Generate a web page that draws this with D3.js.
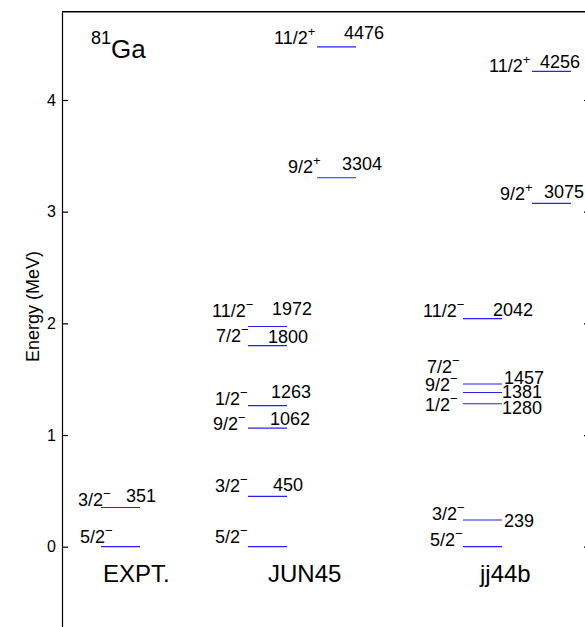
<!DOCTYPE html>
<html lang="en">
<head>
	<meta charset="UTF-8">
	<title>81Ga levels</title>
	<script src="https://cdn.jsdelivr.net/npm/d3@7"></script>
	<style>
		body { margin: 0; background: #fff; }
		text { font-family: Arial, "Liberation Sans", sans-serif; fill: #000; }
	</style>
</head>
<body>
	<svg id="svg"></svg>
	<script>
		// level data (energies in keV)
		var models = ["EXPT.", "JUN45", "jj44b"];

		var exptSpins = ["5/2", "3/2"],
			exptParity = ["−", "−"],
			exptEnergies = [0, 351];

		var junSpins = ["5/2", "3/2", "9/2", "1/2", "7/2", "11/2", "9/2", "11/2"],
			junParity = ["−", "−", "−", "−", "−", "−", "+", "+"],
			junEnergies = [0, 450, 1062, 1263, 1800, 1972, 3304, 4476];

		var jjSpins = ["5/2", "3/2", "1/2", "9/2", "7/2", "11/2", "9/2", "11/2"],
			jjParity = ["−", "−", "−", "−", "−", "−", "+", "+"],
			jjEnergies = [0, 239, 1280, 1381, 1457, 2042, 3075, 4256];

		var yTicks = [0, 1, 2, 3, 4];

		// label nudges: [spin dx, spin dy, energy dx, energy dy] relative to line start / line y
		var exptNudge = [[-21, -4, 0, 0], [-23, -2, 25, -6]];
		var junNudge = [[-33, -4, 0, 0], [-33, -4, 25, -5], [-35, 2, 22, -3], [-33, -1, 23, -8],
			[-32, -4, 20, -3], [-36, -9, 24, -11], [-29, -5, 25, -8], [-43, -3, 27, -8]];
		var jjNudge = [[-33, -1, 0, 0], [-31, 0, 41, 7], [-38, 7, 39, 10], [-38, -1, 39, 6],
			[-36, -11, 41, 0], [-40, -2, 30, -3], [-32, -3, 12, -5], [-43, 1, 8, -3]];

		var w = 585, h = 627,
			axisX = 62, rightX = 590,
			lineW = 39, posShift = 69,
			colStart = [101, 248, 463],
			nameDx = [2, 20, 17],
			svg = d3.select("#svg").attr("width", w).attr("height", h);

		var y = d3.scaleLinear()
			.domain([-0.8, 4.79])
			.range([546.7 + 0.8 * 111.675, 546.7 - 4.79 * 111.675]);

		var columns = [
			{ spins: exptSpins, parity: exptParity, energies: exptEnergies, nudge: exptNudge },
			{ spins: junSpins, parity: junParity, energies: junEnergies, nudge: junNudge },
			{ spins: jjSpins, parity: jjParity, energies: jjEnergies, nudge: jjNudge }
		];

		// frame
		svg.append("g")
			.attr("transform", "translate(" + axisX + ",0)")
			.call(d3.axisLeft(y).tickValues(yTicks).tickSize(-6).tickSizeOuter(0).tickPadding(6)
				.tickFormat(d3.format("d")))
			.call(function(g) {
				g.selectAll("text").style("font-size", "16px").attr("font-family", null);
				g.selectAll("line,path").attr("stroke", "#000").attr("stroke-width", 1.2);
			});

		svg.append("g")
			.attr("transform", "translate(" + rightX + ",0)")
			.call(d3.axisRight(y).tickValues(yTicks).tickSize(-6).tickSizeOuter(0).tickFormat(""))
			.call(function(g) {
				g.selectAll("line,path").attr("stroke", "#000").attr("stroke-width", 1.2);
			});

		svg.append("line")
			.attr("x1", axisX).attr("x2", rightX)
			.attr("y1", y(4.79)).attr("y2", y(4.79))
			.attr("stroke", "#000").attr("stroke-width", 1.5);

		svg.append("text")
			.attr("transform", "translate(39," + y(2.15) + ") rotate(-90)")
			.attr("text-anchor", "middle")
			.style("font-size", "18px")
			.text("Energy (MeV)");

		var title = svg.append("text").attr("x", 91).attr("y", 58);
		title.append("tspan").attr("dy", -14).style("font-size", "18px").text("81");
		title.append("tspan").attr("dy", 14).style("font-size", "26px").text("Ga");

		columns.forEach(function(col, ci) {
			var levels = col.energies.map(function(e, i) {
				return { e: e, spin: col.spins[i], par: col.parity[i], nudge: col.nudge[i],
					x0: colStart[ci] + (col.parity[i] === "+" ? posShift : 0) };
			});

			var g = svg.append("g").attr("class", "column");

			g.selectAll("line.level")
				.data(levels)
				.enter().append("line")
				.attr("class", "level")
				.attr("x1", function(d) { return d.x0; })
				.attr("x2", function(d) { return d.x0 + lineW; })
				.attr("y1", function(d) { return y(d.e / 1000); })
				.attr("y2", function(d) { return y(d.e / 1000); })
				.attr("stroke", "#2323f5")
				.attr("stroke-width", 1.2);

			var spin = g.selectAll("text.spin")
				.data(levels)
				.enter().append("text")
				.attr("class", "spin")
				.attr("x", function(d) { return d.x0 + d.nudge[0]; })
				.attr("y", function(d) { return y(d.e / 1000) + d.nudge[1]; })
				.style("font-size", "18px");
			spin.append("tspan").text(function(d) { return d.spin; });
			spin.append("tspan")
				.attr("dy", -8)
				.style("font-size", "13px")
				.text(function(d) { return d.par; });

			g.selectAll("text.energy")
				.data(levels.filter(function(d) { return d.e > 0; }))
				.enter().append("text")
				.attr("class", "energy")
				.attr("x", function(d) { return d.x0 + d.nudge[2]; })
				.attr("y", function(d) { return y(d.e / 1000) + d.nudge[3]; })
				.style("font-size", "18px")
				.text(function(d) { return d.e; });

			g.append("text")
				.attr("x", colStart[ci] + nameDx[ci])
				.attr("y", 582)
				.style("font-size", "24px")
				.text(models[ci]);
		});
	</script>
</body>
</html>
